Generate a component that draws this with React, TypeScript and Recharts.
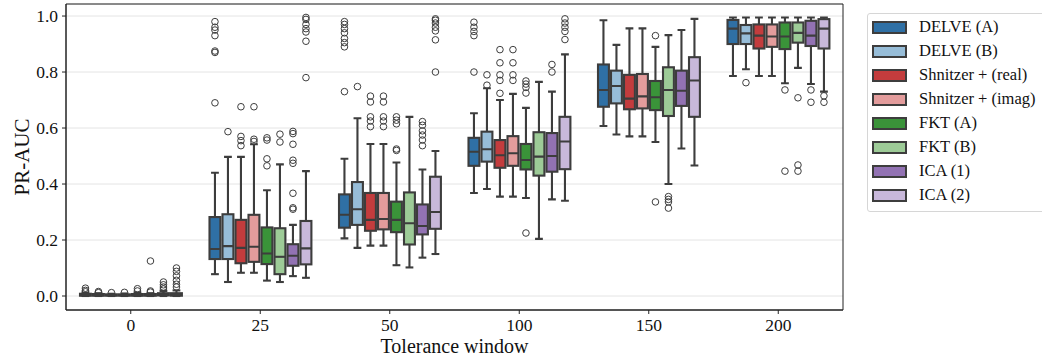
import { ComposedChart, Bar, XAxis, YAxis, CartesianGrid, ReferenceArea } from 'recharts';

const categories = ['0', '25', '50', '100', '150', '200'];
const seriesNames = ['DELVE (A)', 'DELVE (B)', 'Shnitzer + (real)', 'Shnitzer + (imag)', 'FKT (A)', 'FKT (B)', 'ICA (1)', 'ICA (2)'];
const seriesColors = ['#2f70a5', '#97bdd8', '#c33c3d', '#e39c9c', '#3a9339', '#9dcb97', '#9272b3', '#c8b8da'];
const yTicks = [0, 0.2, 0.4, 0.6, 0.8, 1.0];

// [min, q1, median, q3, max] per tolerance window
const delveA = [
  [0, 0.001, 0.003, 0.008, 0.012],
  [0.078, 0.132, 0.168, 0.282, 0.44],
  [0.206, 0.244, 0.29, 0.363, 0.49],
  [0.368, 0.465, 0.515, 0.565, 0.653],
  [0.607, 0.676, 0.736, 0.827, 0.985],
  [0.786, 0.9, 0.955, 0.986, 0.995],
];
const delveB = [
  [0, 0.001, 0.003, 0.007, 0.01],
  [0.05, 0.132, 0.178, 0.292, 0.497],
  [0.172, 0.254, 0.31, 0.407, 0.635],
  [0.382, 0.48, 0.524, 0.587, 0.742],
  [0.577, 0.688, 0.75, 0.805, 0.897],
  [0.81, 0.9, 0.938, 0.968, 0.995],
];
const shnReal = [
  [0, 0.001, 0.003, 0.006, 0.008],
  [0.083, 0.117, 0.172, 0.272, 0.497],
  [0.18, 0.233, 0.272, 0.368, 0.543],
  [0.355, 0.458, 0.503, 0.557, 0.7],
  [0.57, 0.667, 0.705, 0.79, 0.956],
  [0.786, 0.884, 0.93, 0.97, 0.995],
];
const shnImag = [
  [0, 0.001, 0.003, 0.006, 0.009],
  [0.083, 0.122, 0.176, 0.29, 0.542],
  [0.18, 0.238, 0.275, 0.368, 0.543],
  [0.355, 0.465, 0.51, 0.571, 0.722],
  [0.57, 0.67, 0.713, 0.793, 0.956],
  [0.786, 0.89, 0.927, 0.97, 0.995],
];
const fktA = [
  [0, 0.001, 0.003, 0.007, 0.012],
  [0.055, 0.114, 0.152, 0.245, 0.378],
  [0.11, 0.228, 0.272, 0.337, 0.477],
  [0.35, 0.452, 0.486, 0.543, 0.672],
  [0.55, 0.664, 0.71, 0.768, 0.89],
  [0.76, 0.882, 0.927, 0.977, 0.995],
];
const fktB = [
  [0, 0.001, 0.003, 0.007, 0.01],
  [0.05, 0.078, 0.14, 0.242, 0.47],
  [0.102, 0.184, 0.26, 0.37, 0.64],
  [0.204, 0.43, 0.498, 0.585, 0.765],
  [0.4, 0.643, 0.736, 0.817, 0.932],
  [0.815, 0.905, 0.94, 0.977, 0.995],
];
const ica1 = [
  [0, 0.002, 0.005, 0.01, 0.018],
  [0.071, 0.108, 0.144, 0.185, 0.254],
  [0.137, 0.22, 0.25, 0.327, 0.452],
  [0.345, 0.444, 0.5, 0.582, 0.73],
  [0.527, 0.679, 0.733, 0.805, 0.95],
  [0.757, 0.893, 0.93, 0.983, 0.995],
];
const ica2 = [
  [0, 0.001, 0.004, 0.01, 0.02],
  [0.065, 0.113, 0.17, 0.268, 0.446],
  [0.15, 0.24, 0.3, 0.426, 0.518],
  [0.34, 0.453, 0.552, 0.64, 0.863],
  [0.466, 0.64, 0.77, 0.853, 0.99],
  [0.73, 0.884, 0.955, 0.989, 0.995],
];

// outliers per tolerance window
const delveAOut = [[0.028, 0.02, 0.015], [0.69, 0.87, 0.875, 0.93, 0.95, 0.96, 0.98], [0.73, 0.89, 0.905, 0.92, 0.94, 0.955, 0.97, 0.98], [0.8, 0.93, 0.945, 0.96, 0.978], [], []];
const delveBOut = [[0.016, 0.012], [0.587], [0.748], [0.753, 0.79], [], [0.762]];
const shnRealOut = [[0.012], [0.676, 0.57, 0.555, 0.537], [0.714, 0.693, 0.64, 0.625, 0.605], [0.724, 0.77, 0.79, 0.833, 0.88], [], []];
const shnImagOut = [[0.013], [0.676, 0.56, 0.552], [0.714, 0.693, 0.64, 0.625, 0.605], [0.77, 0.79, 0.833, 0.88], [], []];
const fktAOut = [[0.026, 0.018], [0.465, 0.49, 0.557, 0.565], [0.52, 0.525, 0.615, 0.628, 0.64], [0.725, 0.745, 0.757, 0.768, 0.225], [0.93, 0.336], [0.736, 0.446]];
const fktBOut = [[0.125, 0.018, 0.014], [0.55, 0.578], [], [], [0.355, 0.345, 0.336, 0.314], [0.708, 0.468, 0.446]];
const ica1Out = [[0.05, 0.04, 0.032, 0.025], [0.31, 0.315, 0.367, 0.474, 0.485, 0.542, 0.58, 0.588], [0.537, 0.557, 0.575, 0.59, 0.61, 0.623], [0.8, 0.827], [], [0.736, 0.692]];
const ica2Out = [[0.1, 0.088, 0.072, 0.056, 0.042, 0.032], [0.78, 0.91, 0.943, 0.955, 0.97, 0.988, 0.995], [0.8, 0.915, 0.947, 0.96, 0.975, 0.985, 0.99], [0.916, 0.945, 0.96, 0.975, 0.99], [], [0.715, 0.692]];

const allStats = [delveA, delveB, shnReal, shnImag, fktA, fktB, ica1, ica2];
const allOut = [delveAOut, delveBOut, shnRealOut, shnImagOut, fktAOut, fktBOut, ica1Out, ica2Out];

const data = categories.map((cat, ci) => {
  const row: any = { cat };
  allStats.forEach((s, si) => {
    row['s' + si] = s[ci];
    row['o' + si] = allOut[si][ci];
  });
  return row;
});

const EDGE = '#3d3d3d';
const LW = 2.1;
const FONT = 'Liberation Serif, Times New Roman, serif';

function makeBox(si: number) {
  return (props: any) => {
    const { x, y, width, height, payload } = props;
    const st = payload['s' + si];
    const out = payload['o' + si];
    const lo = st[0];
    const hi = st[4];
    const top = Math.min(y, y + height);
    const h = Math.abs(height);
    const py = (v: number) => top + ((hi - v) / (hi - lo)) * h;
    const cx = x + width / 2;
    const cap = width * 0.3;
    const inset = LW / 2;
    return (
      <g>
        <line x1={cx} x2={cx} y1={py(st[4])} y2={py(st[3])} stroke={EDGE} strokeWidth={LW} />
        <line x1={cx} x2={cx} y1={py(st[1])} y2={py(st[0])} stroke={EDGE} strokeWidth={LW} />
        <line x1={cx - cap} x2={cx + cap} y1={py(st[4])} y2={py(st[4])} stroke={EDGE} strokeWidth={LW} />
        <line x1={cx - cap} x2={cx + cap} y1={py(st[0])} y2={py(st[0])} stroke={EDGE} strokeWidth={LW} />
        <rect x={x + inset} y={py(st[3])} width={width - 2 * inset} height={Math.max(py(st[1]) - py(st[3]), 0.5)} fill={seriesColors[si]} stroke={EDGE} strokeWidth={LW} />
        <line x1={x + inset} x2={x + width - inset} y1={py(st[2])} y2={py(st[2])} stroke={EDGE} strokeWidth={LW} />
        {out.map((v: number, k: number) => (
          <circle key={k} cx={cx} cy={py(v)} r={3.3} fill="none" stroke={EDGE} strokeWidth={1} />
        ))}
      </g>
    );
  };
}

function LegendBox() {
  return (
    <div style={{ position: 'absolute', left: 867, top: 13, border: '1px solid #d6d6d6', borderRadius: 3, padding: '1px 8px 4px 4px', background: '#fff', width: 178, boxSizing: 'border-box' }}>
      {seriesNames.map((n, i) => (
        <div key={n} style={{ display: 'flex', alignItems: 'center', height: 24, fontFamily: FONT, fontSize: 16.5, color: '#111', whiteSpace: 'nowrap' }}>
          <span style={{ display: 'inline-block', width: 31, height: 9, background: seriesColors[i], border: `2px solid ${EDGE}`, marginRight: 12 }} />
          <span>{n}</span>
        </div>
      ))}
    </div>
  );
}

export default function App() {
  return (
    <div style={{ position: 'absolute', left: 0, top: 0, width: 1042, height: 357, background: '#fff' }}>
      <ComposedChart width={1042} height={357} data={data} margin={{ top: 4, right: 199, bottom: 17, left: 0 }} barCategoryGap="10%" barGap={0}>
        <CartesianGrid vertical={false} stroke="#e4e4e4" strokeWidth={1} />
        <XAxis
          dataKey="cat"
          height={30}
          axisLine={{ stroke: '#222' }}
          tickLine={{ stroke: '#222' }}
          tickSize={4}
          tickMargin={5}
          tick={{ fontFamily: FONT, fontSize: 17.5, fill: '#111' }}
          label={{
            content: (p: any) => (
              <text x={p.viewBox.x + p.viewBox.width / 2} y={353} textAnchor="middle" fontFamily={FONT} fontSize={20} fill="#111">
                Tolerance window
              </text>
            ),
          }}
        />
        <YAxis
          type="number"
          width={66}
          domain={[-0.05, 1.043]}
          ticks={yTicks}
          allowDataOverflow
          tickFormatter={(v: number) => v.toFixed(1)}
          axisLine={{ stroke: '#222' }}
          tickLine={{ stroke: '#222' }}
          tickSize={4}
          tickMargin={4}
          tick={{ fontFamily: FONT, fontSize: 17.5, fill: '#111' }}
          label={{
            content: () => (
              <text x={0} y={0} transform="translate(29,157) rotate(-90)" textAnchor="middle" fontFamily={FONT} fontSize={21} fill="#111">
                PR-AUC
              </text>
            ),
          }}
        />
        {seriesNames.map((n, si) => (
          <Bar
            key={n}
            name={n}
            dataKey={(row: any) => [row['s' + si][0], row['s' + si][4]]}
            fill={seriesColors[si]}
            shape={makeBox(si)}
            isAnimationActive={false}
          />
        ))}
        <ReferenceArea y1={-0.05} y2={1.043} fill="none" stroke="#222" strokeWidth={1} ifOverflow="visible" />
      </ComposedChart>
      <LegendBox />
    </div>
  );
}
